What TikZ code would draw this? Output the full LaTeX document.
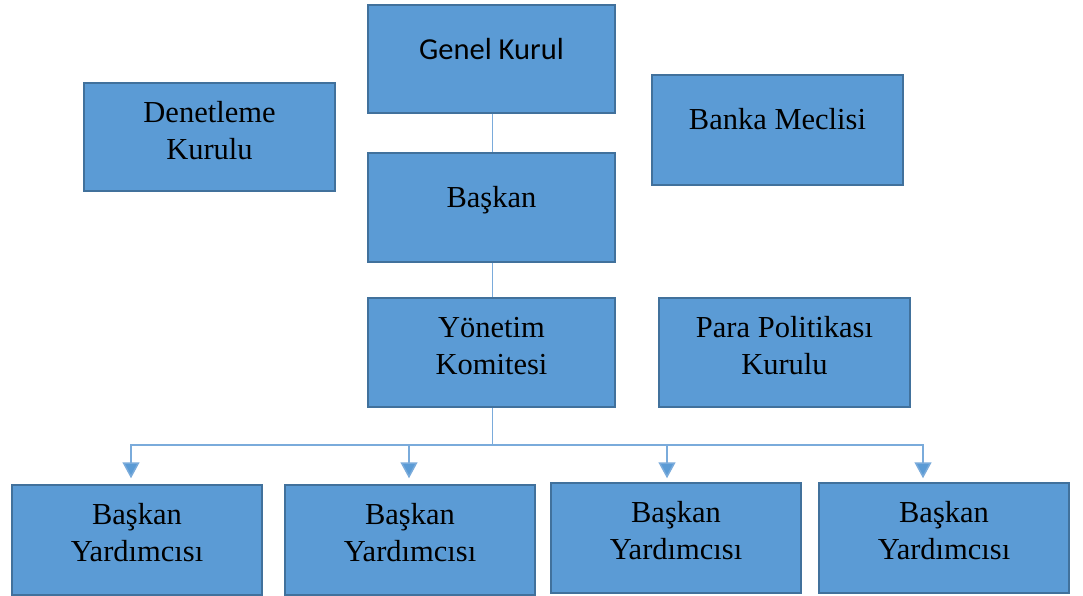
\documentclass[tikz,border=0pt]{standalone}
\usepackage{fontspec}
\setmainfont{Liberation Serif}
\newfontfamily\calfont{Carlito}
\usetikzlibrary{calc,arrows.meta}
\definecolor{boxfill}{HTML}{5B9BD5}
\definecolor{boxline}{HTML}{41719C}
\definecolor{linkline}{HTML}{7AABDB}
\begin{document}
\begin{tikzpicture}[x=1pt,y=-1pt,
  orgbox/.style={draw=boxline, line width=1.5pt, fill=boxfill,
    minimum width=#1, minimum height=108, inner sep=0},
  orgbox/.default=250,
  lbl/.style={font=\fontsize{30.5}{37}\selectfont, inner sep=0,
    align=center, anchor=base},
  link/.style={draw=linkline, line width=1.5pt},
  tolink/.style={link, -{Triangle[width=17pt,length=16pt,fill=boxfill]}}
]
\useasboundingbox[fill=white] (0,0) rectangle (1083,596);

% boxes
\node[orgbox=247, minimum height=108] (gk) at (491.5,59) {};
\node[orgbox=251] (dk) at (209.5,137) {};
\node[orgbox=251, minimum height=110] (bm) at (777.5,130) {};
\node[orgbox=247, minimum height=109] (bs) at (491.5,207.5) {};
\node[orgbox=247, minimum height=109] (yk) at (491.5,352.5) {};
\node[orgbox=251, minimum height=109] (pp) at (784.5,352.5) {};
\node[orgbox, minimum height=110] (by1) at (137,540) {};
\node[orgbox, minimum height=110] (by2) at (410,540) {};
\node[orgbox, minimum height=110] (by3) at (676,538) {};
\node[orgbox, minimum height=110] (by4) at (944,538) {};

% labels (base anchor sits on the last line)
\node[lbl, font=\calfont\fontsize{30.5}{37}\selectfont] (tgk) at ($(gk.north)+(0,55)$) {Genel Kurul};
\node[lbl] (tdk) at ($(dk.north)+(0,77)$) {Denetleme\\Kurulu};
\node[lbl] (tbm) at ($(bm.north)+(0,55)$) {Banka Meclisi};
\node[lbl] (tbs) at ($(bs.north)+(0,55)$) {Başkan};
\node[lbl] (tyk) at ($(yk.north)+(0,77)$) {Yönetim\\Komitesi};
\node[lbl] (tpp) at ($(pp.north)+(0,77)$) {Para Politikası\\Kurulu};
\node[lbl] (tby1) at ($(by1.north)+(0,77)$) {Başkan\\Yardımcısı};
\node[lbl] (tby2) at ($(by2.north)+(0,77)$) {Başkan\\Yardımcısı};
\node[lbl] (tby3) at ($(by3.north)+(0,77)$) {Başkan\\Yardımcısı};
\node[lbl] (tby4) at ($(by4.north)+(0,77)$) {Başkan\\Yardımcısı};

% connectors
\coordinate (rail) at (0,445);
\coordinate (hub) at ($(yk.south |- rail)+(1,0)$);
\draw[link] ($(gk.south)+(1,0)$) -- ($(bs.north)+(1,0)$);
\draw[link] ($(bs.south)+(1,0)$) -- ($(yk.north)+(1,0)$);
\draw[link] ($(yk.south)+(1,0)$) -- (hub);
\draw[tolink] (hub) -| ($(by1.north)+(-6,-6)$);
\draw[tolink] (hub) -| ($(by2.north)+(-1,-6)$);
\draw[tolink] (hub) -| ($(by3.north)+(-9,-4)$);
\draw[tolink] (hub) -| ($(by4.north)+(-21,-4)$);
\end{tikzpicture}
\end{document}
